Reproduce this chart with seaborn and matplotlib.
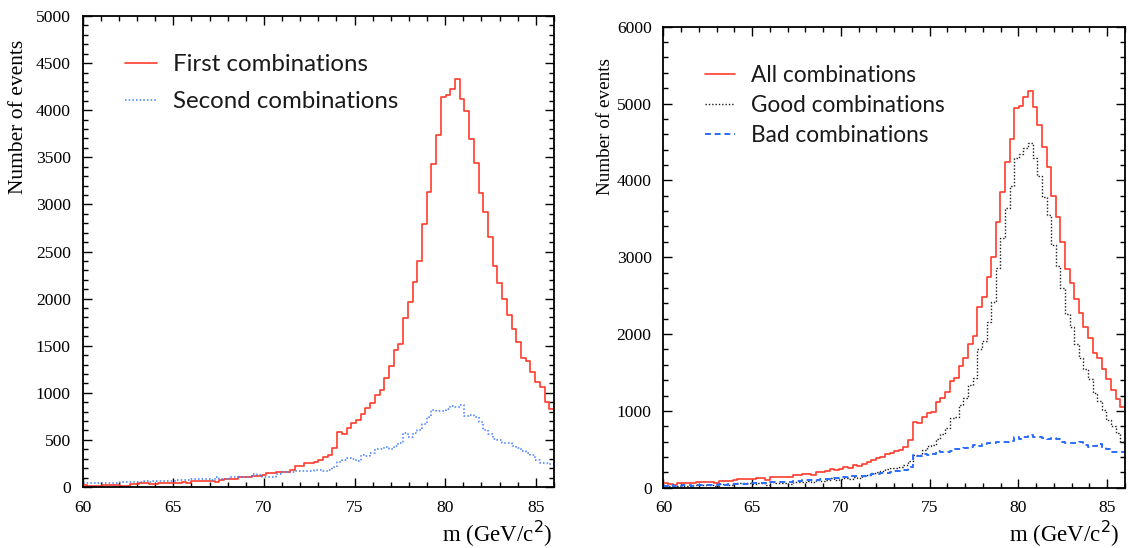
import numpy as np
import pandas as pd
import matplotlib
matplotlib.use("Agg")
import matplotlib.pyplot as plt
import seaborn as sns
from matplotlib.lines import Line2D
from matplotlib.ticker import MultipleLocator

# ---------------- data (events per 0.26 GeV bin, 60-86 GeV) ----------------
mass_lo, mass_hi, n_bins = 60.0, 86.0, 100

first_comb = [21, 14, 14, 14, 21, 21, 21, 21, 14, 14,
              28, 28, 39, 39, 32, 32, 39, 39, 39, 39,
              42, 53, 39, 60, 60, 64, 64, 67, 57, 78,
              81, 85, 85, 103, 110, 110, 117, 117, 127, 145,
              152, 160, 163, 163, 180, 226, 226, 251, 251, 269,
              287, 315, 340, 418, 587, 563, 623, 676, 711, 771,
              842, 895, 980, 1030, 1161, 1288, 1458, 1514, 1798, 1968,
              2180, 2403, 2796, 3135, 3425, 3737, 4140, 4161, 4229, 4328,
              4115, 3992, 3691, 3440, 3125, 2916, 2658, 2346, 2166, 1996,
              1826, 1677, 1543, 1373, 1341, 1217, 1115, 1065, 899, 825]

second_comb = [39, 39, 39, 39, 42, 42, 42, 42, 50, 50,
               50, 50, 50, 60, 53, 60, 60, 67, 67, 67,
               74, 74, 74, 81, 81, 81, 81, 74, 103, 88,
               88, 103, 110, 110, 110, 110, 134, 127, 110, 103,
               103, 134, 156, 163, 163, 170, 170, 170, 170, 180,
               180, 170, 180, 216, 269, 287, 304, 294, 280, 340,
               329, 364, 403, 403, 428, 403, 435, 470, 577, 527,
               570, 605, 666, 747, 817, 810, 810, 825, 863, 853,
               871, 754, 764, 747, 687, 605, 559, 506, 499, 470,
               464, 435, 411, 382, 364, 340, 287, 251, 251, 244]

all_comb = [56, 48, 35, 56, 56, 56, 65, 69, 69, 74,
            74, 65, 91, 87, 82, 100, 108, 108, 108, 108,
            121, 126, 100, 143, 139, 139, 139, 134, 160, 165,
            174, 182, 169, 200, 208, 221, 247, 230, 243, 265,
            256, 295, 282, 308, 330, 360, 386, 403, 438, 455,
            473, 490, 525, 620, 850, 837, 924, 967, 989, 1110,
            1163, 1249, 1385, 1424, 1586, 1684, 1875, 1980, 2348, 2478,
            2738, 2999, 3454, 3852, 4235, 4542, 4946, 4968, 5085, 5167,
            4959, 4721, 4430, 4178, 3800, 3519, 3202, 2846, 2668, 2452,
            2278, 2095, 1952, 1749, 1692, 1541, 1415, 1272, 1154, 1054]

good_comb = [30, 18, 13, 28, 26, 24, 37, 34, 34, 36,
             41, 25, 48, 47, 36, 55, 58, 56, 60, 53,
             59, 61, 40, 75, 64, 61, 67, 54, 72, 74,
             79, 82, 71, 95, 93, 103, 127, 100, 109, 127,
             108, 143, 132, 150, 160, 186, 208, 213, 243, 255,
             258, 269, 300, 347, 425, 425, 486, 542, 551, 628,
             703, 780, 903, 921, 1083, 1172, 1341, 1424, 1801, 1909,
             2160, 2413, 2864, 3253, 3636, 3930, 4290, 4338, 4421, 4481,
             4295, 4057, 3787, 3548, 3157, 2889, 2603, 2260, 2090, 1874,
             1688, 1539, 1418, 1230, 1123, 1007, 880, 803, 710, 600]

bad_comb = [26, 30, 22, 28, 30, 32, 28, 35, 35, 38,
            33, 40, 43, 40, 46, 45, 50, 52, 48, 55,
            62, 65, 60, 68, 75, 78, 72, 80, 88, 91,
            95, 100, 98, 105, 115, 118, 120, 130, 134, 138,
            148, 152, 150, 158, 170, 174, 178, 190, 195, 200,
            215, 221, 225, 273, 425, 412, 438, 425, 438, 482,
            460, 469, 482, 503, 503, 512, 534, 556, 547, 569,
            578, 586, 590, 599, 599, 612, 656, 630, 664, 686,
            664, 664, 643, 630, 643, 630, 599, 586, 578, 578,
            590, 556, 534, 547, 569, 534, 503, 469, 460, 460]

left_labels = ["First combinations", "Second combinations"]
right_labels = ["All combinations", "Good combinations", "Bad combinations"]

# ---------------- styling ----------------
RED = "#ff3b2b"
BLUE_L = "#3f7bff"
BLUE_R = "#2a6cff"
BLACK = "#1a1a1a"

sns.set_theme(style="white")
plt.rcParams["font.family"] = ["Liberation Serif", "DejaVu Serif"]

edges = np.linspace(mass_lo, mass_hi, n_bins + 1)
centers = 0.5 * (edges[:-1] + edges[1:])

fig = plt.figure(figsize=(11.28, 5.48), dpi=100)
axL = fig.add_axes([0.0733, 0.1113, 0.4178, 0.8595])
axR = fig.add_axes([0.5882, 0.1100, 0.4091, 0.8412])


def hist(ax, vals, color, ls, lw=1.2):
    df = pd.DataFrame({"m": centers, "n": np.asarray(vals, dtype=float)})
    sns.histplot(data=df, x="m", weights="n", bins=list(edges), element="step",
                 fill=False, color=color, linestyle=ls, linewidth=lw, ax=ax)


hist(axL, first_comb, RED, "-")
hist(axL, second_comb, BLUE_L, (0, (1, 1.4)), 1.1)

hist(axR, all_comb, RED, "-")
hist(axR, good_comb, BLACK, (0, (1, 1.4)), 1.0)
hist(axR, bad_comb, BLUE_R, (0, (3, 2)), 1.4)


def style(ax, ymax, ymaj, ymin, tfs, ylfs, xlfs):
    ax.set_xlim(mass_lo, mass_hi)
    ax.set_ylim(0, ymax)
    ax.xaxis.set_major_locator(MultipleLocator(5))
    ax.xaxis.set_minor_locator(MultipleLocator(1))
    ax.yaxis.set_major_locator(MultipleLocator(ymaj))
    ax.yaxis.set_minor_locator(MultipleLocator(ymin))
    ax.tick_params(which="both", direction="in", top=True, right=True,
                   bottom=True, left=True, color="black", width=1.0,
                   labelsize=tfs, labelcolor="black")
    ax.tick_params(which="major", length=6.5, pad=8.5)
    ax.tick_params(which="minor", length=3.5)
    ax.tick_params(axis="x", which="major", pad=9)
    for s in ax.spines.values():
        s.set_color("black")
        s.set_linewidth(1.3)
    ax.grid(False)
    ax.set_facecolor("white")
    ax.set_ylabel("Number of events", fontsize=ylfs, loc="top", color="black")
    ax.set_xlabel("m (GeV/c$^2$)", fontsize=xlfs, loc="right", color="black")


style(axL, 5000, 500, 100, 12.6, 15.5, 16.5)
style(axR, 6000, 1000, 200, 12.6, 13.8, 16.5)

axL.yaxis.set_label_coords(-0.115, 0.949)
axL.xaxis.set_label_coords(0.996, -0.068)
axR.yaxis.set_label_coords(-0.108, 0.932)
axR.xaxis.set_label_coords(0.989, -0.068)

leg_font = dict(family=["Lato", "DejaVu Sans"], weight="normal")

hL = [Line2D([], [], color=RED, lw=1.2, ls="-"),
      Line2D([], [], color=BLUE_L, lw=1.1, ls=(0, (1, 1.4)))]
legL = axL.legend(hL, left_labels, loc="upper left", bbox_to_anchor=(0.09, 0.919),
                  frameon=False, borderpad=0, borderaxespad=0, handlelength=1.32,
                  handletextpad=0.66, labelspacing=0.66,
                  prop=dict(size=17.3, **leg_font))
for t in legL.get_texts():
    t.set_color("#1a1a1a")

hR = [Line2D([], [], color=RED, lw=1.2, ls="-"),
      Line2D([], [], color=BLACK, lw=1.0, ls=(0, (1, 1.4))),
      Line2D([], [], color=BLUE_R, lw=1.4, ls=(0, (3, 2)))]
legR = axR.legend(hR, right_labels, loc="upper left", bbox_to_anchor=(0.09, 0.918),
                  frameon=False, borderpad=0, borderaxespad=0, handlelength=1.31,
                  handletextpad=0.74, labelspacing=0.4,
                  prop=dict(size=16.3, **leg_font))
for t in legR.get_texts():
    t.set_color("#1a1a1a")

fig.savefig("out.png", dpi=100, facecolor="white")
